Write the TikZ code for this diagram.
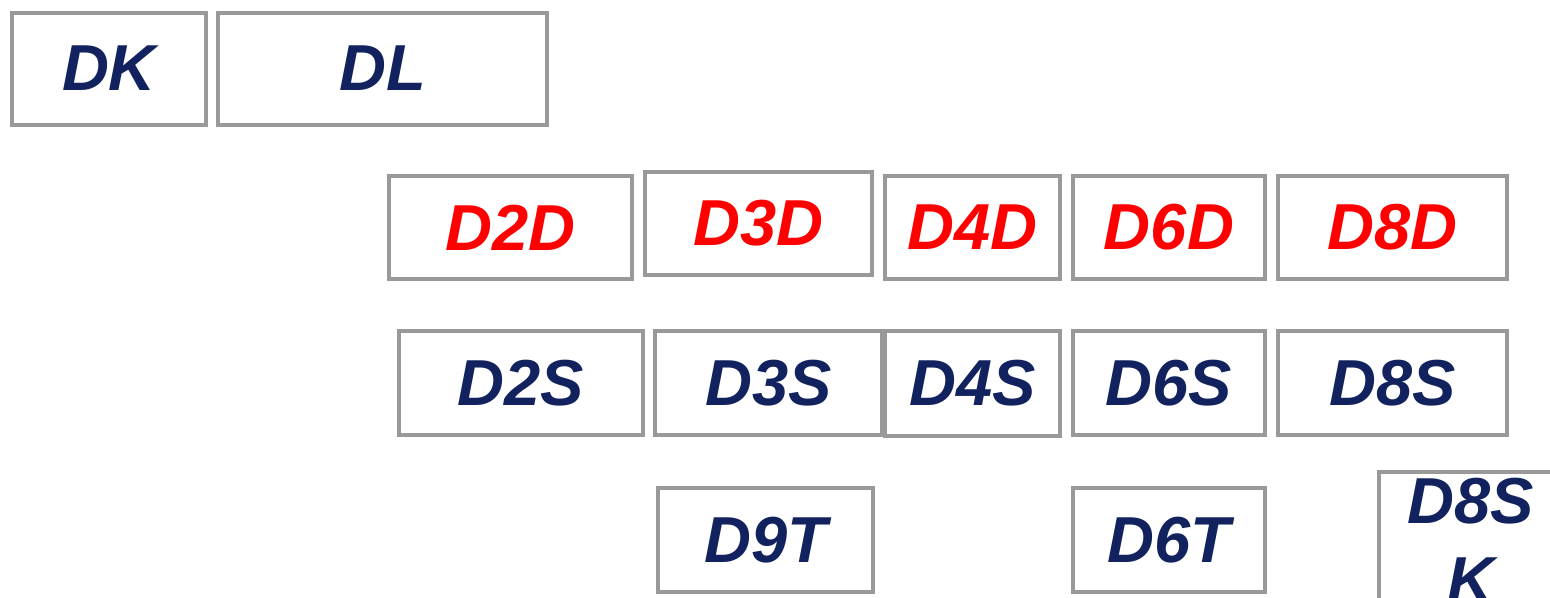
\documentclass[tikz,border=0pt]{standalone}
\usepackage{fontspec}
\setmainfont{Liberation Sans}
\definecolor{navy}{HTML}{12225E}
\definecolor{frame}{HTML}{999999}
\tikzset{
  cell/.style={draw=frame, line width=4pt, fill=white, inner sep=0pt,
    font=\fontsize{65}{79}\selectfont\bfseries\itshape},
  dgroup/.style={cell, text=red},
  sgroup/.style={cell, text=navy},
}
\begin{document}
\begin{tikzpicture}[x=1pt, y=-1pt]
  \useasboundingbox (0,0) rectangle (1550,597);
  % top row
  \node[sgroup, minimum width=194pt, minimum height=112pt] (dk) at (109,68.5) {DK};
  \node[sgroup, minimum width=329pt, minimum height=112pt] (dl) at (382.5,68.5) {DL};
  % dihedral groups
  \node[dgroup, minimum width=243pt, minimum height=103pt] (d2d) at (510.5,227.5) {D2D};
  \node[dgroup, minimum width=227pt, minimum height=103pt] (d3d) at (758.5,223.5) {D3D};
  \node[dgroup, minimum width=175pt, minimum height=103pt] (d4d) at (972.5,227.5) {D4D};
  \node[dgroup, minimum width=192pt, minimum height=103pt] (d6d) at (1169,227.5) {D6D};
  \node[dgroup, minimum width=229pt, minimum height=103pt] (d8d) at (1392.5,227.5) {D8D};
  % S row
  \node[sgroup, minimum width=244pt, minimum height=104pt] (d2s) at (521,383) {D2S};
  \node[sgroup, minimum width=227pt, minimum height=104pt] (d3s) at (768.5,383) {D3S};
  \node[sgroup, minimum width=175pt, minimum height=105pt] (d4s) at (972.5,383.5) {D4S};
  \node[sgroup, minimum width=192pt, minimum height=104pt] (d6s) at (1169,383) {D6S};
  \node[sgroup, minimum width=229pt, minimum height=104pt] (d8s) at (1392.5,383) {D8S};
  % T row
  \node[sgroup, minimum width=215pt, minimum height=104pt] (d9t) at (765.5,540) {D9T};
  \node[sgroup, minimum width=192pt, minimum height=104pt] (d6t) at (1169,540) {D6T};
  \node[sgroup, minimum width=184pt, minimum height=136pt, align=center] (d8sk) at (1471,540) {D8S\\K};
\end{tikzpicture}
\end{document}
